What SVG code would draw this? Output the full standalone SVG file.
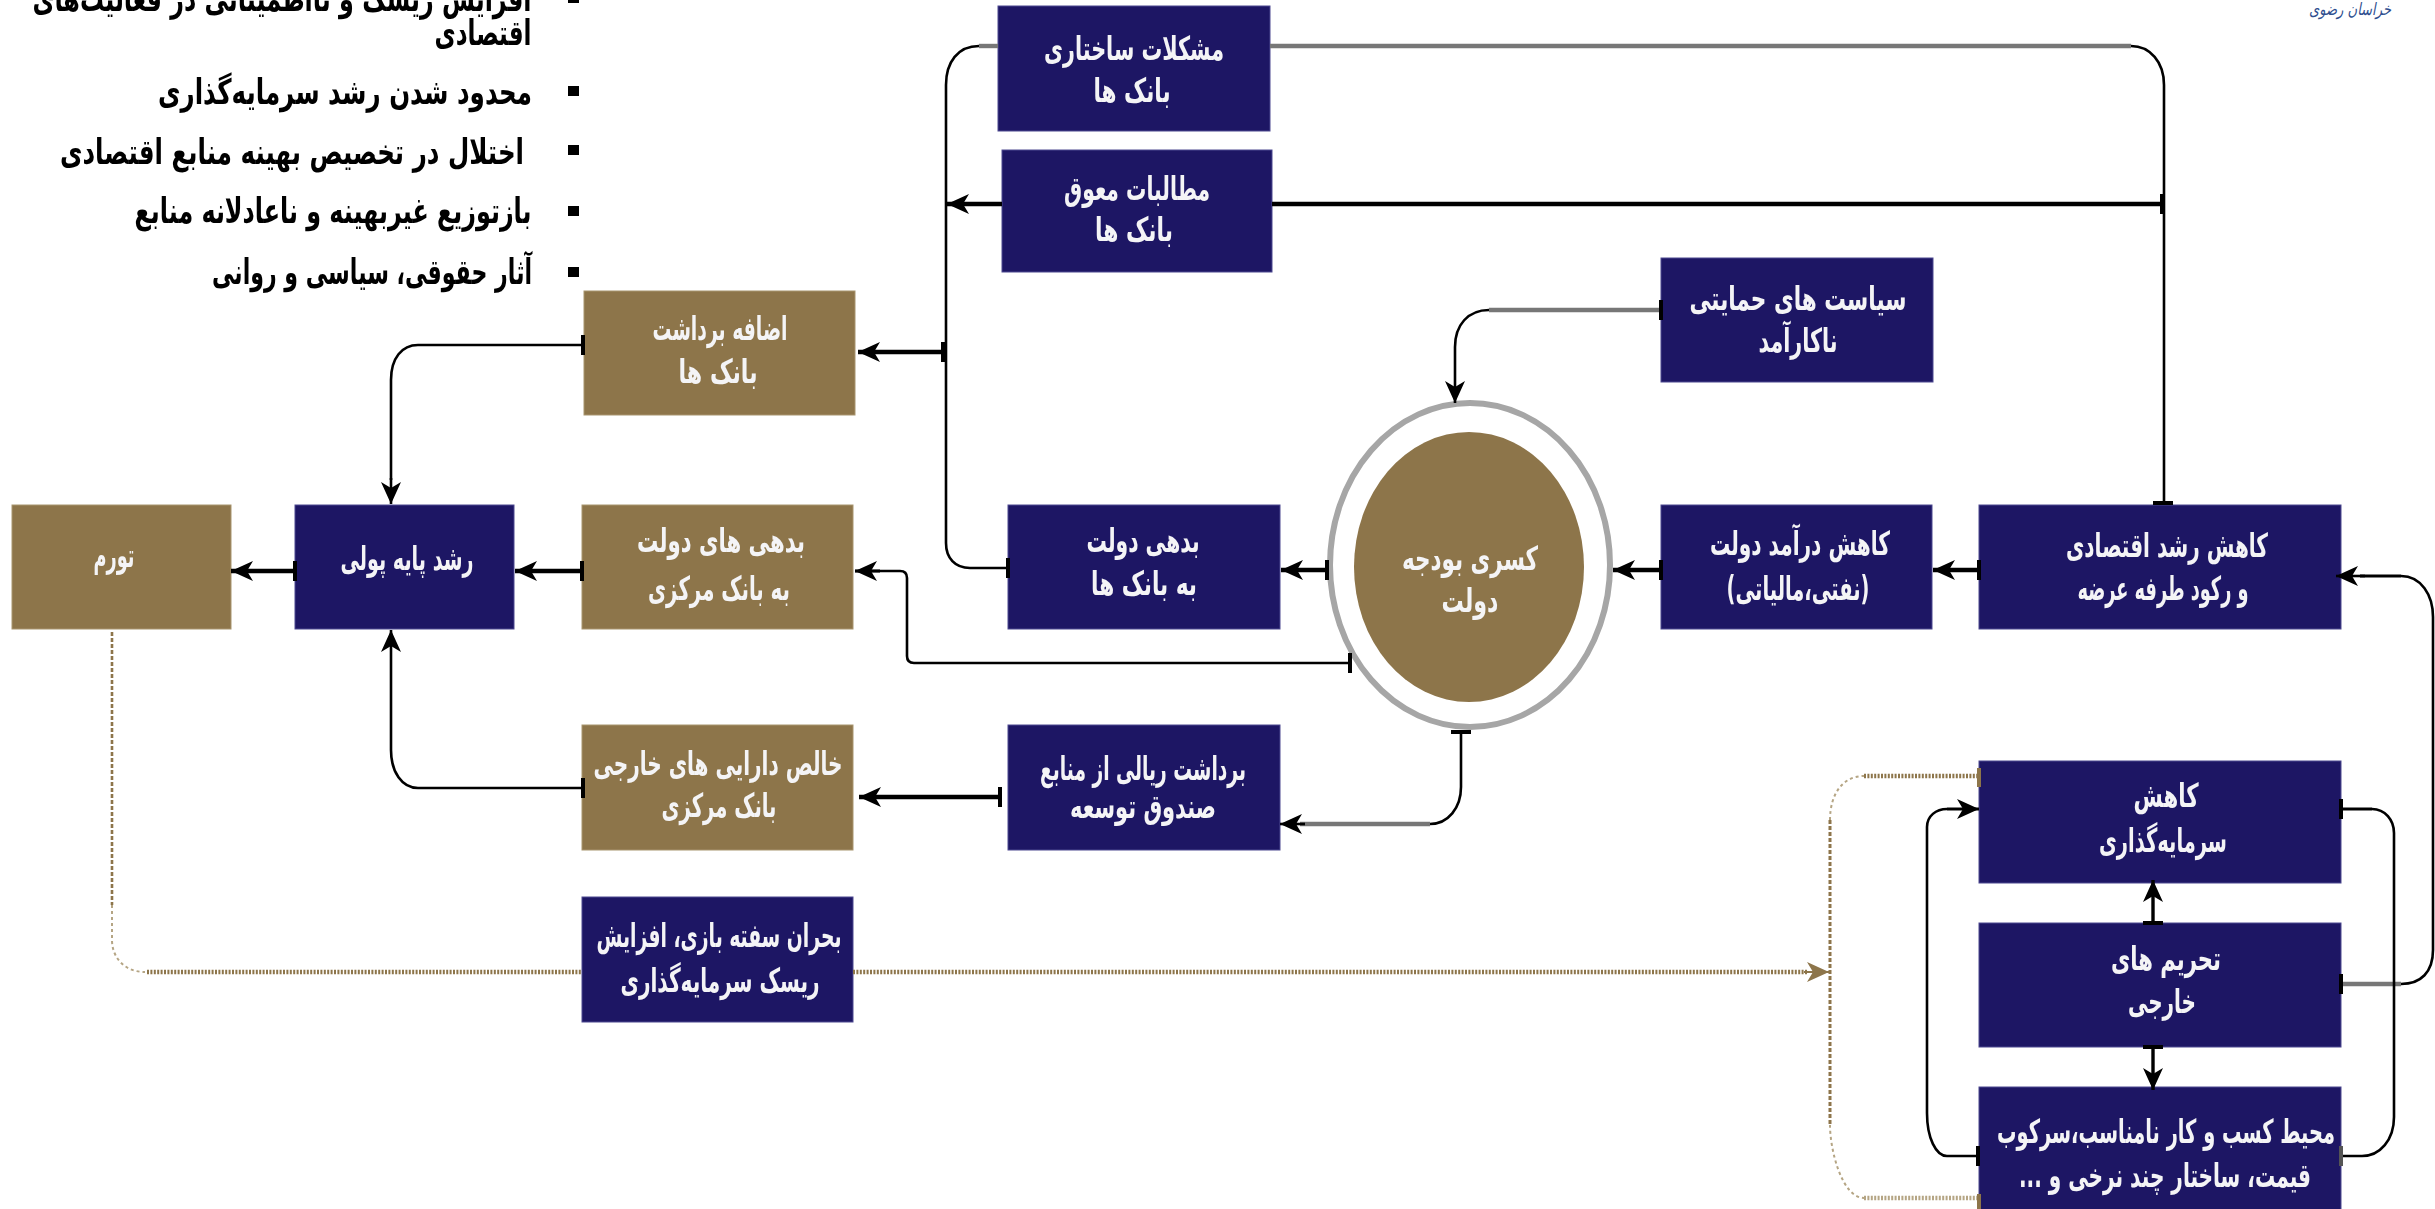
<svg xmlns="http://www.w3.org/2000/svg" width="2435" height="1209" viewBox="0 0 2435 1209">
<style>
text{font-family:"DejaVu Sans",sans-serif;font-weight:700;direction:rtl;text-anchor:middle}
.n{fill:#1d1664;stroke:#4d4890;stroke-width:1}
.b{fill:#8d754a;stroke:#a8956f;stroke-width:1}
.w{fill:#f4f4f6;font-size:33px;filter:url(#soft)}
.k{fill:#000;font-size:35px}
.l{fill:none;stroke:#000;stroke-width:2.6}
.t{fill:none;stroke:#000;stroke-width:4.6}
.g{fill:none;stroke:#777;stroke-width:4.4}
.d{fill:none;stroke:#8d754a;stroke-width:4.4;stroke-dasharray:2 1.4}
.v{fill:none;stroke:#8d754a;stroke-width:3;stroke-dasharray:4 2}
.c{fill:none;stroke:#b5a584;stroke-width:2;stroke-dasharray:3 3}
.a{marker-end:url(#arrow)}
.s{marker-start:url(#tee)}
</style>
<defs>
<marker id="arrow" markerUnits="userSpaceOnUse" markerWidth="24" markerHeight="22" refX="23" refY="11" orient="auto"><path d="M1 1L23 11L1 21L7 11Z" fill="#000"/></marker>
<marker id="tee" markerUnits="userSpaceOnUse" markerWidth="6" markerHeight="22" refX="3" refY="11" orient="auto"><rect x="1" y="1" width="4" height="20" fill="#000"/></marker>
<marker id="goldarrow" markerUnits="userSpaceOnUse" markerWidth="24" markerHeight="22" refX="23" refY="11" orient="auto"><path d="M1 1L23 11L1 21L7 11Z" fill="#8d754a"/></marker>
<filter id="soft" x="-5%" y="-20%" width="110%" height="140%"><feGaussianBlur stdDeviation="0.5"/></filter>
</defs>
<rect width="2435" height="1209" fill="#fff"/>

<g id="bullets" filter="url(#soft)">
<rect x="568" y="-7" width="11" height="10"/>
<rect x="568" y="86" width="11" height="10"/>
<rect x="568" y="145" width="11" height="10"/>
<rect x="568" y="206" width="11" height="10"/>
<rect x="568" y="267" width="11" height="10"/>
<text class="k" x="282" y="11" textLength="499" lengthAdjust="spacingAndGlyphs">افزایش ریسک و  نااطمینانی در فعالیت‌های</text>
<text class="k" x="483" y="45" textLength="97" lengthAdjust="spacingAndGlyphs">اقتصادی</text>
<text class="k" x="345" y="104" textLength="374" lengthAdjust="spacingAndGlyphs">محدود شدن رشد سرمایه‌گذاری</text>
<text class="k" x="292" y="164" textLength="464" lengthAdjust="spacingAndGlyphs">اختلال در تخصیص بهینه منابع اقتصادی</text>
<text class="k" x="333" y="223" textLength="397" lengthAdjust="spacingAndGlyphs">بازتوزیع غیربهینه و ناعادلانه منابع</text>
<text class="k" x="372" y="284" textLength="320" lengthAdjust="spacingAndGlyphs">آثار حقوقی، سیاسی و روانی</text>
</g>
<g id="logo"><text x="2350" y="15" textLength="82" lengthAdjust="spacingAndGlyphs" style="font-size:17px;font-weight:400;font-style:italic;fill:#2f4f8f">خراسان رضوی</text></g>

<g id="node-structural"><rect class="n" x="998" y="6" width="272" height="125"/><text class="w" x="1134" y="60" textLength="180" lengthAdjust="spacingAndGlyphs">مشکلات ساختاری</text><text class="w" x="1132" y="102" textLength="77" lengthAdjust="spacingAndGlyphs">بانک ها</text></g>
<g id="node-claims"><rect class="n" x="1002" y="150" width="270" height="122"/><text class="w" x="1137" y="200" textLength="146" lengthAdjust="spacingAndGlyphs">مطالبات معوق</text><text class="w" x="1134" y="241" textLength="78" lengthAdjust="spacingAndGlyphs">بانک ها</text></g>
<g id="node-policy"><rect class="n" x="1661" y="258" width="272" height="124"/><text class="w" x="1798" y="310" textLength="217" lengthAdjust="spacingAndGlyphs">سیاست های حمایتی</text><text class="w" x="1798" y="352" textLength="79" lengthAdjust="spacingAndGlyphs">ناکارآمد</text></g>
<g id="node-overdraft"><rect class="b" x="584" y="291" width="271" height="124"/><text class="w" x="720" y="340" textLength="135" lengthAdjust="spacingAndGlyphs">اضافه برداشت</text><text class="w" x="718" y="383" textLength="79" lengthAdjust="spacingAndGlyphs">بانک ها</text></g>
<g id="node-inflation"><rect class="b" x="12" y="505" width="219" height="124"/><text class="w" x="114" y="567" textLength="41" lengthAdjust="spacingAndGlyphs">تورم</text></g>
<g id="node-base"><rect class="n" x="295" y="505" width="219" height="124"/><text class="w" x="407" y="570" textLength="133" lengthAdjust="spacingAndGlyphs">رشد پایه پولی</text></g>
<g id="node-cbdebt"><rect class="b" x="582" y="505" width="271" height="124"/><text class="w" x="721" y="552" textLength="168" lengthAdjust="spacingAndGlyphs">بدهی های دولت</text><text class="w" x="719" y="600" textLength="142" lengthAdjust="spacingAndGlyphs">به بانک مرکزی</text></g>
<g id="node-bankdebt"><rect class="n" x="1008" y="505" width="272" height="124"/><text class="w" x="1143" y="552" textLength="113" lengthAdjust="spacingAndGlyphs">بدهی دولت</text><text class="w" x="1144" y="595" textLength="106" lengthAdjust="spacingAndGlyphs">به بانک ها</text></g>
<g id="node-deficit"><ellipse cx="1470" cy="565" rx="140" ry="162" fill="#fff" stroke="#a6a6a6" stroke-width="6"/><ellipse cx="1469" cy="567" rx="115" ry="135" fill="#8d754a"/><text class="w" x="1470" y="570" textLength="136" lengthAdjust="spacingAndGlyphs">کسری بودجه</text><text class="w" x="1470" y="612" textLength="57" lengthAdjust="spacingAndGlyphs">دولت</text></g>
<g id="node-revenue"><rect class="n" x="1661" y="505" width="271" height="124"/><text class="w" x="1800" y="555" textLength="180" lengthAdjust="spacingAndGlyphs">کاهش درآمد دولت</text><text class="w" x="1798" y="600" textLength="143" lengthAdjust="spacingAndGlyphs">(نفتی،مالیاتی)</text></g>
<g id="node-growth"><rect class="n" x="1979" y="505" width="362" height="124"/><text class="w" x="2167" y="557" textLength="202" lengthAdjust="spacingAndGlyphs">کاهش رشد اقتصادی</text><text class="w" x="2163" y="600" textLength="171" lengthAdjust="spacingAndGlyphs">و رکود طرفه عرضه</text></g>
<g id="node-nfa"><rect class="b" x="582" y="725" width="271" height="125"/><text class="w" x="718" y="775" textLength="249" lengthAdjust="spacingAndGlyphs">خالص دارایی های خارجی</text><text class="w" x="719" y="817" textLength="115" lengthAdjust="spacingAndGlyphs">بانک مرکزی</text></g>
<g id="node-withdraw"><rect class="n" x="1008" y="725" width="272" height="125"/><text class="w" x="1143" y="780" textLength="206" lengthAdjust="spacingAndGlyphs">برداشت ریالی از منابع</text><text class="w" x="1143" y="818" textLength="146" lengthAdjust="spacingAndGlyphs">صندوق توسعه</text></g>
<g id="node-speculation"><rect class="n" x="582" y="897" width="271" height="125"/><text class="w" x="719" y="947" textLength="245" lengthAdjust="spacingAndGlyphs">بحران سفته بازی، افزایش</text><text class="w" x="720" y="992" textLength="199" lengthAdjust="spacingAndGlyphs">ریسک سرمایه‌گذاری</text></g>
<g id="node-invest"><rect class="n" x="1979" y="761" width="362" height="122"/><text class="w" x="2166" y="807" textLength="65" lengthAdjust="spacingAndGlyphs">کاهش</text><text class="w" x="2163" y="852" textLength="128" lengthAdjust="spacingAndGlyphs">سرمایه‌گذاری</text></g>
<g id="node-sanctions"><rect class="n" x="1979" y="923" width="362" height="124"/><text class="w" x="2166" y="970" textLength="110" lengthAdjust="spacingAndGlyphs">تحریم های</text><text class="w" x="2162" y="1013" textLength="68" lengthAdjust="spacingAndGlyphs">خارجی</text></g>
<g id="node-business"><rect class="n" x="1979" y="1087" width="362" height="130"/><text class="w" x="2166" y="1143" textLength="338" lengthAdjust="spacingAndGlyphs">محیط کسب و کار نامناسب،سرکوب</text><text class="w" x="2165" y="1187" textLength="292" lengthAdjust="spacingAndGlyphs">قیمت، ساختار چند نرخی و ...</text></g>

<g id="connectors">
<path class="g" d="M998 46H979"/>
<path class="l" d="M979 46C958 46 946 62 946 85V543C946 558 955 568 970 568H1008"/>
<rect x="1006" y="558" width="4" height="20" fill="#000"/>
<path class="g" d="M1270 46H2131"/>
<path class="l" d="M2131 46C2150 46 2164 62 2164 85V503"/>
<rect x="2153" y="501" width="20" height="4" fill="#000"/>
<path class="t s" d="M2162 204H1272"/>
<path class="t a" d="M1002 204H947"/>
<path class="t s a" d="M943 352H858"/>
<path class="l s" d="M583 345H418C402 345 391 358 391 380V480"/>
<path class="l a" d="M391 478V504"/>
<path class="g s" d="M1661 310H1489"/>
<path class="l a" d="M1489 310C1468 310 1455 325 1455 347V403"/>
<path class="t s a" d="M295 571H231"/>
<path class="t s a" d="M582 571H515"/>
<path class="t s a" d="M1327 570H1281"/>
<path class="t s a" d="M1661 570H1613"/>
<path class="t s a" d="M1979 570H1933"/>
<path class="l s" d="M1350 663H914Q907 663 907 656V578Q907 571 900 571H855"/>
<path class="t a" d="M880 571H855" style="stroke-width:3"/>
<path class="l s" d="M1461 732V787C1461 808 1448 824 1430 824"/>
<path class="g" d="M1430 824H1300"/>
<path class="l a" d="M1305 824H1280"/>
<path class="t s a" d="M1000 797H859"/>
<path class="l s a" d="M583 788H418C402 788 391 772 391 750V630"/>
<path class="g s" d="M2341 984H2401"/>
<path class="l" d="M2401 984C2421 984 2433 972 2433 950V617C2433 595 2421 576 2401 576"/>
<path class="t" d="M2401 576H2360" style="stroke-width:3"/>
<path class="l a" d="M2365 576H2336"/>
<path class="t s" d="M2341 809H2372" style="stroke-width:3"/>
<path class="l" d="M2372 809C2385 809 2394 820 2394 833V1117C2394 1140 2380 1156 2362 1156H2341"/>
<rect x="2339" y="1146" width="4" height="20" fill="#555"/>
<path class="l s" d="M1978 1156H1947C1936 1156 1927 1138 1927 1113V827C1927 816 1936 809 1947 809"/>
<path class="t a" d="M1947 809H1979" style="stroke-width:3"/>
<path class="t s a" d="M2153 923V880" style="stroke-width:3.4"/>
<path class="t s a" d="M2153 1047V1090" style="stroke-width:3.4"/>
<path class="v" d="M112 632V905" style="stroke-width:2.6"/>
<path class="c" d="M112 905V940C112 958 125 972 145 972"/>
<path class="d" d="M147 972H581"/>
<path class="d" d="M853 972H1808"/>
<path d="M1804 972H1829" fill="none" stroke="#8d754a" stroke-width="2" marker-end="url(#goldarrow)"/>
<path class="v" d="M1830 820V1125"/>
<path class="c" d="M1830 820C1830 795 1842 776 1864 776"/>
<path class="c" d="M1830 1125C1830 1150 1842 1198 1864 1198"/>
<path class="d" d="M1864 776H1978"/>
<path class="d" d="M1864 1198H1978" style="stroke:#b5a584"/>
<rect x="1977" y="768" width="4" height="19" fill="#8d754a"/>
<rect x="1977" y="1194" width="4" height="15" fill="#8d754a"/>
</g>
</svg>
